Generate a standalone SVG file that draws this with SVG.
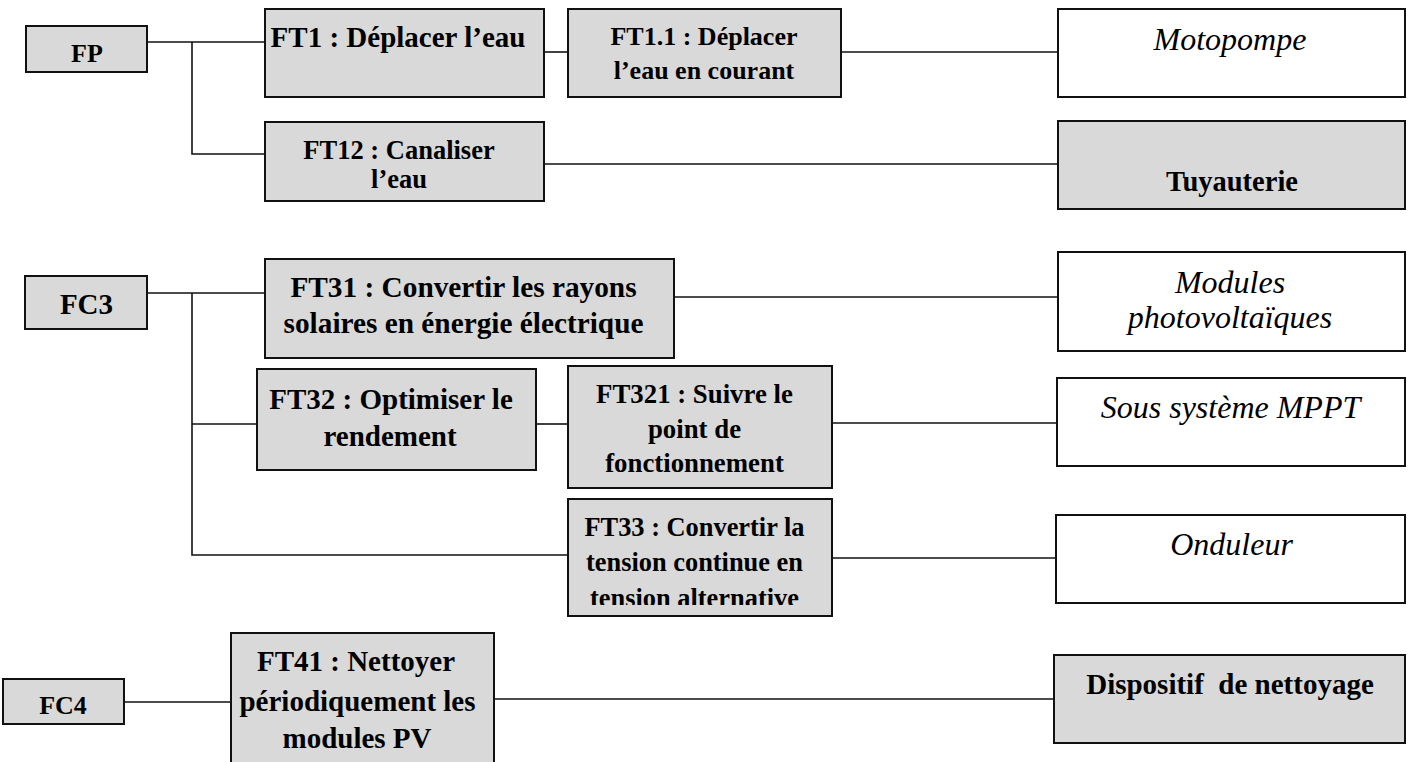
<svg xmlns="http://www.w3.org/2000/svg" width="1414" height="762" viewBox="0 0 1414 762">
<style>
  .box { fill: #d9d9d9; stroke: #111; stroke-width: 2; }
  .wbox { fill: #ffffff; stroke: #111; stroke-width: 2; }
  .t { font-family: "Liberation Serif", "Times New Roman", serif; font-weight: bold; fill: #000; text-anchor: middle; }
  .i { font-family: "Liberation Serif", "Times New Roman", serif; font-style: italic; fill: #000; text-anchor: middle; font-size: 32px; }
  .conn path { fill: none; stroke: #111; stroke-width: 1.6; }
</style>
<defs>
  <clipPath id="clipFT33"><rect x="568" y="499" width="264" height="106"/></clipPath>
</defs>
<rect width="1414" height="762" fill="#fff"/>

<g id="connectors" class="conn">
  <path d="M147 42 H265"/>
  <path d="M192 42 V154 H265"/>
  <path d="M544 52 H568"/>
  <path d="M841 52 H1058"/>
  <path d="M544 164 H1058"/>
  <path d="M147 293 H265"/>
  <path d="M192 293 V555 H568"/>
  <path d="M192 424 H257"/>
  <path d="M674 297 H1058"/>
  <path d="M536 424 H568"/>
  <path d="M832 423 H1057"/>
  <path d="M832 558 H1056"/>
  <path d="M124 702 H231"/>
  <path d="M494 699 H1054"/>
</g>

<g id="FP">
  <rect class="box" x="26" y="26" width="121" height="46"/>
  <text class="t" x="87" y="62" font-size="26">FP</text>
</g>
<g id="FT1">
  <rect class="box" x="265" y="9" width="279" height="88"/>
  <text class="t" x="398" y="47" font-size="29">FT1 : Déplacer l’eau</text>
</g>
<g id="FT1-1">
  <rect class="box" x="568" y="9" width="273" height="88"/>
  <text class="t" x="704" y="45" font-size="26">FT1.1 : Déplacer</text>
  <text class="t" x="704" y="79" font-size="26">l’eau en courant</text>
</g>
<g id="Motopompe">
  <rect class="wbox" x="1058" y="9" width="347" height="88"/>
  <text class="i" x="1230" y="50">Motopompe</text>
</g>
<g id="FT12">
  <rect class="box" x="265" y="122" width="279" height="79"/>
  <text class="t" x="399" y="159" font-size="26.5">FT12 : Canaliser</text>
  <text class="t" x="399" y="188" font-size="26.5">l’eau</text>
</g>
<g id="Tuyauterie">
  <rect class="box" x="1058" y="121" width="347" height="88"/>
  <text class="t" x="1232" y="191" font-size="28.5">Tuyauterie</text>
</g>
<g id="FC3">
  <rect class="box" x="25" y="276" width="122" height="53"/>
  <text class="t" x="86.5" y="314" font-size="29">FC3</text>
</g>
<g id="FT31">
  <rect class="box" x="265" y="259" width="409" height="99"/>
  <text class="t" x="463.5" y="297" font-size="29.3">FT31 : Convertir les rayons</text>
  <text class="t" x="463.5" y="333" font-size="29.3">solaires en énergie électrique</text>
</g>
<g id="Modules">
  <rect class="wbox" x="1058" y="252" width="347" height="99"/>
  <text class="i" x="1230" y="293">Modules</text>
  <text class="i" x="1230" y="328">photovoltaïques</text>
</g>
<g id="FT32">
  <rect class="box" x="257" y="369" width="279" height="101"/>
  <text class="t" x="391" y="409" font-size="29">FT32 : Optimiser le</text>
  <text class="t" x="390" y="446" font-size="29">rendement</text>
</g>
<g id="FT321">
  <rect class="box" x="568" y="366" width="264" height="122"/>
  <text class="t" x="694.5" y="403" font-size="26.8">FT321 : Suivre le</text>
  <text class="t" x="694.5" y="438" font-size="26.8">point de</text>
  <text class="t" x="694.5" y="472" font-size="26.8">fonctionnement</text>
</g>
<g id="SousSysteme">
  <rect class="wbox" x="1057" y="378" width="348" height="88"/>
  <text class="i" x="1230.5" y="418">Sous système MPPT</text>
</g>
<g id="FT33">
  <rect class="box" x="568" y="499" width="264" height="117"/>
  <g clip-path="url(#clipFT33)">
    <text class="t" x="694.5" y="536" font-size="26.4">FT33 : Convertir la</text>
    <text class="t" x="694.5" y="571" font-size="26.4">tension continue en</text>
    <text class="t" x="694.5" y="607" font-size="26.4">tension alternative</text>
  </g>
</g>
<g id="Onduleur">
  <rect class="wbox" x="1056" y="515" width="349" height="88"/>
  <text class="i" x="1231.5" y="555">Onduleur</text>
</g>
<g id="FC4">
  <rect class="box" x="3" y="679" width="121" height="45"/>
  <text class="t" x="63" y="714" font-size="26">FC4</text>
</g>
<g id="FT41">
  <rect class="box" x="231" y="633" width="263" height="140"/>
  <text class="t" x="356" y="671" font-size="29">FT41 : Nettoyer</text>
  <text class="t" x="357.5" y="711" font-size="29">périodiquement les</text>
  <text class="t" x="357" y="748" font-size="29">modules PV</text>
</g>
<g id="Dispositif">
  <rect class="box" x="1054" y="655" width="351" height="88"/>
  <text class="t" x="1230" y="694" font-size="29" xml:space="preserve">Dispositif  de nettoyage</text>
</g>
</svg>
